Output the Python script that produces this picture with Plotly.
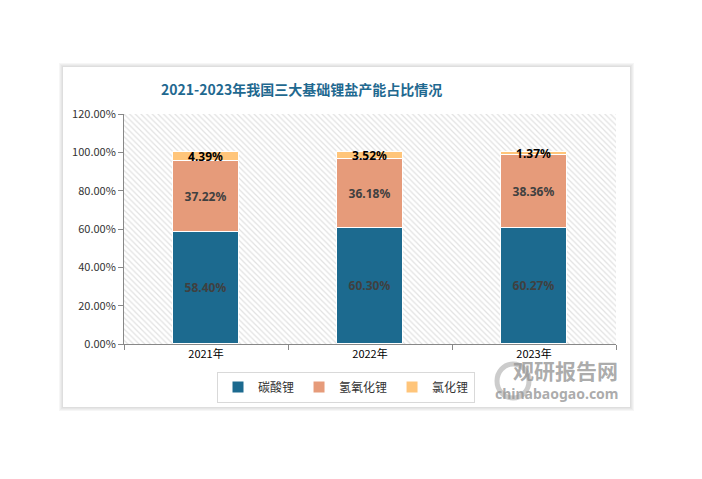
import plotly.graph_objects as go

categories = ["2021年", "2022年", "2023年"]
series_names = ["碳酸锂", "氢氧化锂", "氯化锂"]
li2co3 = [0.5840, 0.6030, 0.6027]
lioh = [0.3722, 0.3618, 0.3836]
licl = [0.0439, 0.0352, 0.0137]
y_ticks = [0, 0.2, 0.4, 0.6, 0.8, 1.0, 1.2]

colors = ["#1C6A8F", "#E69B7A", "#FFC57A"]
label_colors = ["#404040", "#404040", "#000000"]

OFF = 8  # page body margin
W, H = 702 - OFF, 479 - OFF
L, R, T, B = 124, 616, 114, 344
pw, ph = R - L, B - T


def px(x):
    return (x - L) / pw


def py(y):
    return (B - y) / ph


fig = go.Figure()

# hatched plot background
fig.add_trace(go.Bar(
    x=[categories[1]], y=[1.2], width=[3], base=[0],
    marker=dict(color="white", line=dict(width=0),
                pattern=dict(shape="\\", fgcolor="#c4c4c4", bgcolor="white", size=4, solidity=0.3)),
    hoverinfo="skip", showlegend=False,
))

values = [li2co3, lioh, licl]
bases = [[0, 0, 0], li2co3, [a + b for a, b in zip(li2co3, lioh)]]
for name, vals, base, c, lc in zip(series_names, values, bases, colors, label_colors):
    fig.add_trace(go.Bar(
        name=name, x=categories, y=vals, base=base, width=0.4,
        marker=dict(color=c, line=dict(color="white", width=1)),
        text=[f"{v*100:.2f}%" for v in vals],
        textposition="inside", insidetextanchor="middle", constraintext="none",
        textfont=dict(color=lc, size=12, family="Noto Sans, DejaVu Sans", weight="bold"),
        cliponaxis=False,
    ))

shapes = []
# panel shadow
for i, col in enumerate(["#f6f6f6", "#eeeeee", "#e6e6e6", "#dedede"]):
    d = 4 - i
    shapes.append(dict(type="rect", xref="paper", yref="paper", layer="below",
                       x0=px(63 - d), x1=px(630 + d), y0=py(407 + d), y1=py(67 - d),
                       fillcolor=col, line=dict(width=0)))
shapes.append(dict(type="rect", xref="paper", yref="paper", layer="below",
                   x0=px(63), x1=px(630), y0=py(407), y1=py(67),
                   fillcolor="white", line=dict(width=0)))

annotations = [
    dict(text="<b>2021-2023年我国三大基础锂盐产能占比情况</b>", xref="paper", yref="paper",
         x=px(301), y=py(89), showarrow=False, xanchor="center", yanchor="middle",
         font=dict(size=14, color="#1F6990", family="Noto Sans CJK SC")),
    dict(text="<b>观研报告网</b>", xref="paper", yref="paper", x=px(620), y=py(370),
         showarrow=False, xanchor="right", yanchor="middle",
         font=dict(size=21, color="rgba(150,150,150,0.8)", family="Noto Sans CJK SC")),
    dict(text="chinabaogao.com", xref="paper", yref="paper", x=px(621), y=py(393),
         showarrow=False, xanchor="right", yanchor="middle",
         font=dict(size=14, color="rgba(150,150,150,0.8)", family="Noto Sans", weight="bold")),
]
# watermark logo (circle)
shapes.append(dict(type="circle", xref="paper", yref="paper", layer="above",
                   x0=px(497), x1=px(529), y0=py(398), y1=py(364),
                   line=dict(color="rgba(170,170,170,0.6)", width=5)))

fig.update_layout(
    width=W, height=H,
    margin=dict(l=L - OFF, r=W - (R - OFF), t=T - OFF, b=H - (B - OFF), pad=0),
    paper_bgcolor="white", plot_bgcolor="rgba(0,0,0,0)",
    barmode="overlay", bargap=0,
    font=dict(family="Noto Sans CJK SC, Noto Sans", color="#333333", size=11),
    showlegend=True,
    legend=dict(orientation="h", x=px(346), y=py(387), xanchor="center", yanchor="middle",
                bordercolor="#d9d9d9", borderwidth=1, bgcolor="white",
                font=dict(size=12, color="#333333"), itemwidth=30, traceorder="normal"),
    xaxis=dict(type="category", categoryorder="array", categoryarray=categories,
               range=[-0.5, 2.5], showline=True, linecolor="#888888", linewidth=1,
               ticks="outside", tickson="boundaries", ticklen=5, tickcolor="#888888",
               showgrid=False, tickfont=dict(size=11, color="#000000"), fixedrange=True),
    yaxis=dict(range=[0, 1.2], tickvals=y_ticks, tickformat=".2%", showline=True,
               linecolor="#888888", linewidth=1, ticks="outside", ticklen=5, tickcolor="#888888",
               showgrid=False, zeroline=False, tickfont=dict(size=11, color="#333333")),
    shapes=shapes, annotations=annotations,
)

fig.write_html("out.html")
